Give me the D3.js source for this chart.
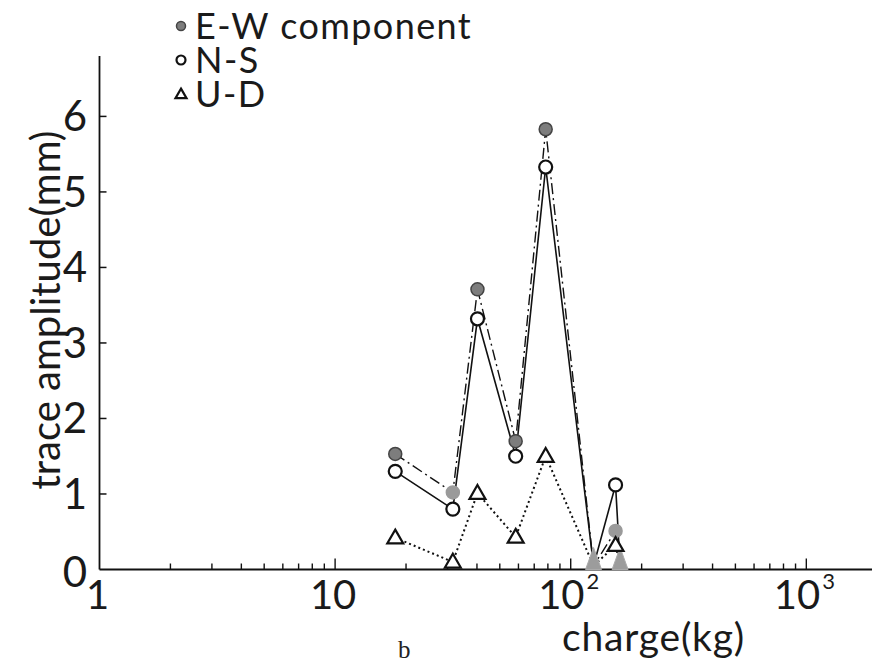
<!DOCTYPE html>
<html lang="en">
<head>
  <meta charset="UTF-8">
  <title>trace amplitude vs charge</title>
  <style>
    * { margin: 0; padding: 0; }
    body { background: #fff; width: 874px; height: 665px; overflow: hidden; }
    svg { display: block; font-family: 'Lato', 'DejaVu Sans', sans-serif; }
    .lbl { fill: #1a1a1a; }
  </style>
  <script src="https://cdn.jsdelivr.net/npm/d3@7/dist/d3.min.js"></script>
</head>
<body>
  <svg id="chart" width="874" height="665"></svg>
  <script>
    // charge (kg) of each shot
    const charge = [18, 31.6, 40.2, 58.4, 78.3, 125, 155, 162];
    // trace amplitude (mm) per component
    const ewAmp = [1.53, 1.02, 3.71, 1.70, 5.83, 0.05, 0.51, 0.05];
    const nsAmp = [1.30, 0.80, 3.32, 1.50, 5.33, 0.05, 1.12, 0.05];
    const udAmp = [0.42, 0.10, 1.01, 0.43, 1.50, 0.05, 0.32, 0.05];

    const yTicks = [0, 1, 2, 3, 4, 5, 6];
    const xMajor = [1, 10, 100, 1000];
    const xTickLabels = [['1', ''], ['10', ''], ['10', '2'], ['10', '3']];
    const legendNames = ['E-W component', 'N-S', 'U-D'];

    const svg = d3.select('#chart');
    const x = d3.scaleLog().domain([1, 1900]).range([99.5, 872]);
    const y = d3.scaleLinear().domain([0, 6.8]).range([569.5, 56]);

    // axes
    const ax = svg.append('g').attr('stroke', '#111').attr('stroke-width', 1.8);
    ax.append('line').attr('x1', x(1)).attr('x2', x(1)).attr('y1', y(6.8)).attr('y2', y(0));
    ax.append('line').attr('x1', x(1)).attr('x2', 872).attr('y1', y(0)).attr('y2', y(0));

    // y ticks point inward
    yTicks.filter(d => d > 0).forEach(d => {
      ax.append('line').attr('x1', x(1)).attr('x2', x(1) + 7).attr('y1', y(d)).attr('y2', y(d)).attr('stroke-width', 1.5);
    });
    svg.append('g').selectAll('text').data(yTicks).join('text')
      .attr('class', 'lbl')
      .attr('x', 87).attr('y', d => y(d) + (d === 0 ? 17 : 15))
      .attr('text-anchor', 'end').attr('font-size', 42)
      .text(d => d);

    // x ticks: minor 2..9 per decade, major at decades
    const minor = [];
    [1, 10, 100, 1000].forEach(dec => { for (let k = 2; k <= 9; k++) if (dec * k < 1900) minor.push(dec * k); });
    minor.forEach(v => {
      ax.append('line').attr('x1', x(v)).attr('x2', x(v)).attr('y1', y(0)).attr('y2', y(0) - 6).attr('stroke-width', 1.4);
    });
    xMajor.slice(1).forEach(v => {
      ax.append('line').attr('x1', x(v)).attr('x2', x(v)).attr('y1', y(0)).attr('y2', y(0) - 11).attr('stroke-width', 1.4);
    });
    const xl = svg.append('g').selectAll('text').data(xMajor).join('text')
      .attr('class', 'lbl')
      .attr('x', d => x(d) - 2).attr('y', 609)
      .attr('text-anchor', 'middle').attr('font-size', 40);
    xl.append('tspan').text((d, i) => xTickLabels[i][0]);
    xl.append('tspan').attr('font-size', 22).attr('dy', -20).attr('dx', 2)
      .text((d, i) => xTickLabels[i][1]);

    // axis titles
    svg.append('text').attr('class', 'lbl')
      .attr('transform', 'translate(60,310) rotate(-90)')
      .attr('text-anchor', 'middle').attr('font-size', 40)
      .text('trace amplitude(mm)');
    svg.append('text').attr('class', 'lbl')
      .attr('x', 562).attr('y', 651).attr('font-size', 39)
      .attr('letter-spacing', 0.8)
      .text('charge(kg)');
    svg.append('text')
      .attr('x', 398).attr('y', 658).attr('font-size', 25)
      .attr('font-family', "'Liberation Serif', 'DejaVu Serif', serif")
      .attr('fill', '#222').text('b');

    // series
    const series = [
      { vals: ewAmp, dash: '11,4,2,4', width: 1.4 },
      { vals: nsAmp, dash: null, width: 1.6 },
      { vals: udAmp, dash: '2,3', width: 2 }
    ];
    const line = d3.line().x(d => x(d[0])).y(d => y(d[1]));
    series.forEach(s => {
      svg.append('path')
        .datum(charge.map((c, i) => [c, s.vals[i]]))
        .attr('d', line)
        .attr('fill', 'none').attr('stroke', '#111')
        .attr('stroke-width', s.width)
        .attr('stroke-dasharray', s.dash);
    });

    const tri = d3.symbol().type(d3.symbolTriangle);
    function marker(g, kind, size, faint) {
      if (kind === 0) {
        g.append('circle').attr('r', size).attr('fill', faint ? '#9a9a9a' : '#7d7d7d')
          .attr('stroke', faint ? '#9a9a9a' : '#444').attr('stroke-width', 1.5);
      } else if (kind === 1) {
        g.append('circle').attr('r', size).attr('fill', '#fff')
          .attr('stroke', faint ? '#999' : '#111').attr('stroke-width', 2.2);
      } else {
        g.append('path').attr('d', tri.size(size * size * 2.6)()).attr('transform', 'translate(0,1)')
          .attr('fill', '#fff').attr('stroke', faint ? '#999' : '#111').attr('stroke-width', 2.2);
      }
    }

    // near-zero shots show up as grey spikes on the axis
    const zeroIdx = charge.map((c, i) => i).filter(i => ewAmp[i] < 0.1);
    zeroIdx.forEach(i => {
      const cx = x(charge[i]);
      svg.append('path')
        .attr('d', `M${cx - 8},${y(0)} L${cx},${y(0) - 22} L${cx + 8},${y(0)} Z`)
        .attr('fill', '#9c9c9c').attr('stroke', '#aaa').attr('stroke-width', 1);
    });

    series.forEach((s, k) => {
      charge.forEach((c, i) => {
        if (s.vals[i] < 0.1) return;
        const g = svg.append('g').attr('transform', `translate(${x(c)},${y(s.vals[i])})`);
        marker(g, k, 6.5, k === 0 && (i === 1 || i === 6));
      });
    });

    // legend
    legendNames.forEach((name, k) => {
      const cy = 26 + k * 34;
      const g = svg.append('g').attr('transform', `translate(181,${cy})`);
      marker(g, k, 4.5, false);
      svg.append('text').attr('class', 'lbl')
        .attr('x', 195).attr('y', cy + 13).attr('font-size', 36)
        .attr('letter-spacing', 1.4)
        .text(name);
    });
  </script>
</body>
</html>
